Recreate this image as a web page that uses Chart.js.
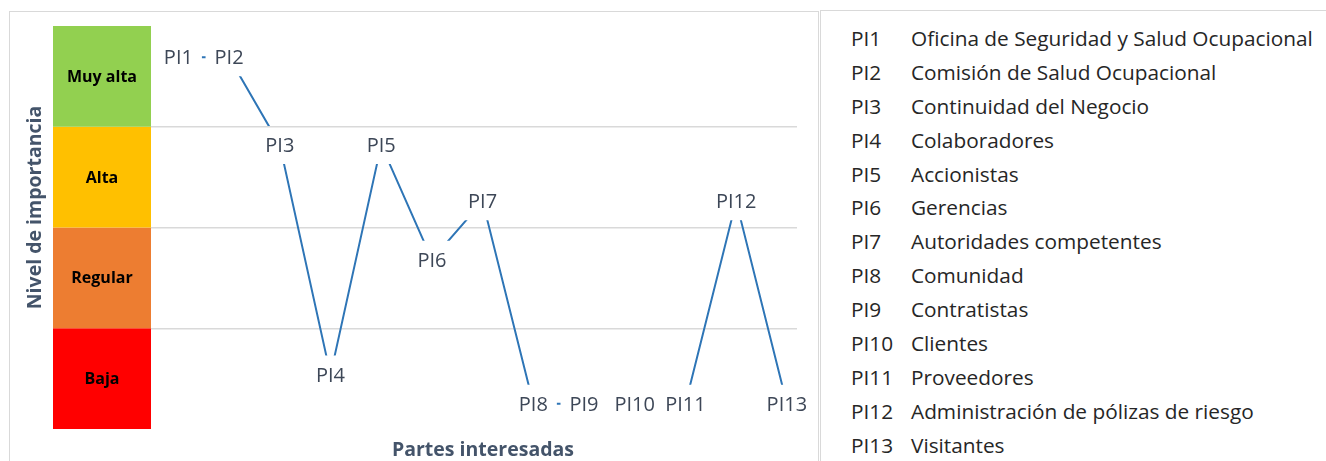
<!DOCTYPE html>
<html>
<head>
<meta charset="utf-8">
<script src="https://cdn.jsdelivr.net/npm/chart.js@4"></script>
<style>
    body { margin: 0; background: #fff; width: 1326px; height: 461px; overflow: hidden; position: relative; font-family: 'Open Sans', sans-serif; }
    #chart-box { position: absolute; left: 0; top: 0; width: 820px; height: 461px; }
    #chart-frame { position: absolute; left: 9px; top: 11px; width: 808px; height: 460px; border: 1px solid #d9d9d9; }
    #legend-box { position: absolute; left: 820px; top: 10px; width: 520px; height: 470px; border-left: 1px solid #d9d9d9; border-top: 1px solid #d9d9d9; padding-top: 11px; box-sizing: border-box; }
    .row { display: flex; height: 33.9px; line-height: 33.9px; font-size: 20.8px; color: #262626; padding-left: 30px; white-space: nowrap; }
    .row .code { width: 60px; }
</style>
</head>
<body>
<div id="chart-frame"></div>
<div id="chart-box"><canvas id="importance-chart" width="820" height="461"></canvas></div>
<div id="legend-box"></div>

<script>
// Stakeholders (partes interesadas) and their importance level
const categories = ['PI1', 'PI2', 'PI3', 'PI4', 'PI5', 'PI6', 'PI7', 'PI8', 'PI9', 'PI10', 'PI11', 'PI12', 'PI13'];
const importance = [3.69, 3.69, 2.82, 0.54, 2.82, 1.68, 2.26, 0.25, 0.25, 0.25, 0.25, 2.26, 0.25];
const names = [
    'Oficina de Seguridad y Salud Ocupacional',
    'Comisión de Salud Ocupacional',
    'Continuidad del Negocio',
    'Colaboradores',
    'Accionistas',
    'Gerencias',
    'Autoridades competentes',
    'Comunidad',
    'Contratistas',
    'Clientes',
    'Proveedores',
    'Administración de pólizas de riesgo',
    'Visitantes'
];

// Level bands, bottom to top
const levels = ['Baja', 'Regular', 'Alta', 'Muy alta'];
const levelColors = ['#FF0000', '#ED7D31', '#FFC000', '#92D050'];

const lineColor = '#2E75B6';
const labelColor = '#3d4757';
const titleColor = '#44546a';
const labelFont = '20px "Open Sans"';

// Build legend list on the right
const legendBox = document.getElementById('legend-box');
categories.forEach((code, i) => {
    const row = document.createElement('div');
    row.className = 'row';
    row.innerHTML = `<span class="code">${code}</span><span>${names[i]}</span>`;
    legendBox.appendChild(row);
});

// Box around each data label (the line is not drawn under it)
function labelBoxes(chart) {
    const { ctx } = chart;
    const meta = chart.getDatasetMeta(0);
    ctx.save();
    ctx.font = labelFont;
    const boxes = meta.data.map((pt, i) => {
        const w = ctx.measureText(categories[i]).width + 18;
        const h = 38;
        return { x: pt.x - w / 2, y: pt.y - h / 2, w, h };
    });
    ctx.restore();
    return boxes;
}

const levelBandsPlugin = {
    id: 'levelBands',
    // Colored level column on the left + axis titles
    beforeDatasetsDraw(chart) {
        const { ctx, chartArea, scales } = chart;
        const y = scales.y;
        const right = chartArea.left;
        const left = right - 98;
        ctx.save();
        levels.forEach((lvl, i) => {
            const top = y.getPixelForValue(i + 1);
            const bottom = y.getPixelForValue(i);
            ctx.fillStyle = levelColors[i];
            ctx.fillRect(left, top, right - left, bottom - top);
            ctx.fillStyle = '#000';
            ctx.font = 'bold 16px "Open Sans"';
            ctx.textAlign = 'center';
            ctx.textBaseline = 'middle';
            ctx.fillText(lvl, (left + right) / 2, (top + bottom) / 2 + 1);
        });

        // axis titles
        ctx.fillStyle = titleColor;
        ctx.font = 'bold 19.5px "Open Sans"';
        ctx.textAlign = 'center';
        ctx.textBaseline = 'middle';
        ctx.fillText('Partes interesadas', (chartArea.left + chartArea.right) / 2 + 9, chartArea.bottom + 21);
        ctx.save();
        ctx.translate(left - 18, (chartArea.top + chartArea.bottom) / 2 - 20);
        ctx.rotate(-Math.PI / 2);
        ctx.fillText('Nivel de importancia', 0, 0);
        ctx.restore();
        ctx.restore();
    },
    beforeDatasetDraw(chart) {
        const { ctx, width, height } = chart;
        ctx.save();
        // one clip per label box: the clips intersect, so every box stays empty
        labelBoxes(chart).forEach(b => {
            ctx.beginPath();
            ctx.rect(0, 0, width, height);
            ctx.rect(b.x, b.y, b.w, b.h);
            ctx.clip('evenodd');
        });
    },
    afterDatasetDraw(chart) {
        chart.ctx.restore();
    },
    // Data labels centered on the points
    afterDatasetsDraw(chart) {
        const { ctx } = chart;
        const meta = chart.getDatasetMeta(0);
        ctx.save();
        ctx.font = labelFont;
        ctx.textAlign = 'center';
        ctx.textBaseline = 'alphabetic';
        ctx.fillStyle = labelColor;
        meta.data.forEach((pt, i) => {
            ctx.fillText(categories[i], pt.x, pt.y + 7);
        });
        ctx.restore();
    }
};

const ctx = document.getElementById('importance-chart').getContext('2d');
window.importanceChart = new Chart(ctx, {
    type: 'line',
    data: {
        datasets: [{
            label: 'Nivel de importancia',
            data: importance.map((v, i) => ({ x: i + 1, y: v })),
            borderColor: lineColor,
            borderWidth: 2,
            pointRadius: 0,
            tension: 0,
            fill: false
        }]
    },
    options: {
        responsive: false,
        animation: false,
        layout: {
            padding: { left: 151, right: 23, top: 26, bottom: 32 }
        },
        plugins: {
            legend: { display: false },
            tooltip: { enabled: false }
        },
        scales: {
            x: {
                type: 'linear',
                display: false,
                min: 0.46,
                max: 13.2
            },
            y: {
                min: 0,
                max: 4,
                ticks: { display: false, stepSize: 1 },
                border: { display: false },
                grid: {
                    drawTicks: false,
                    lineWidth: 1.5,
                    color: c => (c.tick.value > 0 && c.tick.value < 4) ? '#d9d9d9' : 'transparent'
                },
                afterFit(scale) { scale.width = 0; }
            }
        }
    },
    plugins: [levelBandsPlugin]
});
</script>
</body>
</html>
